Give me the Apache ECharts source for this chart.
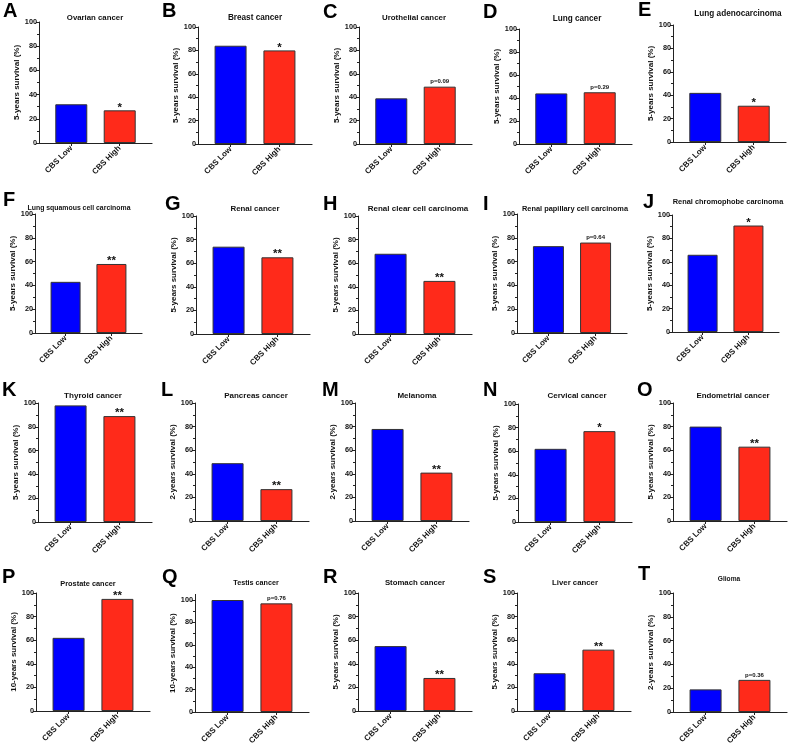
<!DOCTYPE html>
<html><head><meta charset="utf-8">
<script src="https://cdn.jsdelivr.net/npm/echarts@6/dist/echarts.min.js"></script>
<style>html,body{margin:0;padding:0;background:#fff}#c{width:789px;height:748px}</style>
</head><body><div id="c"></div>
<script>
// ---------------- data ----------------
const categories = ['CBS Low', 'CBS High'];
const panelLetters = ['A','B','C','D','E','F','G','H','I','J','K','L','M','N','O','P','Q','R','S','T'];
const panelTitles = ['Ovarian cancer','Breast cancer','Urothelial cancer','Lung cancer','Lung adenocarcinoma',
  'Lung squamous cell carcinoma','Renal cancer','Renal clear cell carcinoma','Renal papillary cell carcinoma','Renal chromophobe carcinoma',
  'Thyroid cancer','Pancreas cancer','Melanoma','Cervical cancer','Endometrial cancer',
  'Prostate cancer','Testis cancer','Stomach cancer','Liver cancer','Glioma'];
const yAxisNames = ['5-years survival (%)','5-years survival (%)','5-years survival (%)','5-years survival (%)','5-years survival (%)',
  '5-years survival (%)','5-years survival (%)','5-years survival (%)','5-years survival (%)','5-years survival (%)',
  '5-years survival (%)','2-years survival (%)','2-years survival (%)','5-years survival (%)','5-years survival (%)',
  '10-years survival (%)','10-years survival (%)','5-years survival (%)','5-years survival (%)','2-years survival (%)'];
const lowValues  = [32, 84, 39, 44, 42,  43, 74, 68, 73, 66,  98, 49, 78, 62, 80,  62, 100, 55, 32, 19];
const highValues = [27, 80, 49, 45, 31,  58, 65, 45, 76, 91,  89, 27, 41, 77, 63,  95,  97, 28, 52, 27];
const sigLabels  = ['*','*','p=0.09','p=0.29','*',  '**','**','**','p=0.64','*',  '**','**','**','*','**',  '**','p=0.76','**','**','p=0.36'];
const yTickValues = [0, 20, 40, 60, 80, 100];
const yMaxValues = [100,100,100,100,100, 100,100,100,100,100, 100,100,100,100,100, 100,105,100,100,100];

// ---------------- layout (pixels) ----------------
// [y-axis x, y of value 100, y of value 0, plot width]
const layout = [
  [39,22,143,113],[198,27,144,114],[359,27,144,113],[519,29,144,113],[673,25,142,113],
  [35,214,333,107],[196,216,334,114],[358,216,334,114],[517,214,333,110],[672,215,332,107],
  [38,403,522,114],[195,403,521,114],[355,403,521,114],[518,404,522,114],[673,403,521,114],
  [36,593,711,114],[195,600,712,114],[358,593,711,114],[517,593,711,114],[673,593,712,114]
];
const titlePos = [[95,17],[255,17],[414,17],[577,18],[738,13],
  [79,207],[255,208],[418,208],[575,208],[728,201],
  [93,395],[256,395],[417,395],[577,395],[733,395],
  [88,583],[256,582],[415,582],[575,582],[729,578]];
const titleSizes = [7.8,8.2,7.9,8.2,8.2, 6.9,7.9,8,7.4,7.4, 8.1,8,8,8,7.9, 7.4,7.2,7.8,7.8,6.6];
const titleNarrow = [0,0,0,0,1, 1,0,0,0,0, 0,0,0,0,0, 0,1,0,0,1];
const letterPos = [[3,4],[162,4],[323,5],[483,5],[638,3],
  [3,193],[165,197],[323,197],[483,197],[643,195],
  [2,383],[161,383],[322,383],[483,383],[637,383],
  [2,570],[162,570],[323,570],[483,570],[638,567]];
const nameGaps = [16,16,16,14,10, 16,16,16,15,16, 16,15,15,16,16, 17,16,16,16,11];

const FONT = 'Liberation Sans, Arial, sans-serif';
const NARROW = 'Liberation Sans Narrow, Arial Narrow, Liberation Sans, sans-serif';
const AX = '#222';
const slotX = i => 2 + 3 * i;

const grids = [], xAxes = [], yAxes = [], series = [], titles = [];
layout.forEach((L, i) => {
  const [x0, y100, y0, w] = L;
  const top = y0 - (y0 - y100) * yMaxValues[i] / 100;
  grids.push({ left: x0, top: top, width: w, height: y0 - top });
  xAxes.push({
    gridIndex: i, type: 'value', min: 0, max: 7,
    axisLine: { show: true, onZero: false, lineStyle: { color: AX, width: 1.2 } },
    axisTick: { show: true, customValues: [slotX(0), slotX(1)], length: 3, lineStyle: { color: AX, width: 1 } },
    axisLabel: { customValues: [slotX(0), slotX(1)], formatter: v => categories[Math.round((v - 2) / 3)],
      rotate: 45, fontSize: 8, fontWeight: 'bold', color: '#111', fontFamily: FONT, margin: 4 },
    splitLine: { show: false }
  });
  yAxes.push({
    gridIndex: i, type: 'value', min: 0, max: yMaxValues[i], interval: 20,
    name: yAxisNames[i], nameLocation: 'middle', nameGap: nameGaps[i],
    nameTextStyle: { fontSize: 8, fontWeight: 'bold', color: '#111', fontFamily: FONT },
    axisLine: { show: true, lineStyle: { color: AX, width: 1 } },
    axisTick: { show: true, customValues: yTickValues, length: 3, lineStyle: { color: AX, width: 1 } },
    minorTick: { show: true, splitNumber: 2, length: 2, lineStyle: { color: AX, width: 1 } },
    axisLabel: { customValues: yTickValues, fontSize: 7.3, fontWeight: 'bold', color: '#111', fontFamily: FONT, margin: 2 },
    splitLine: { show: false }, minorSplitLine: { show: false }
  });
  const sig = sigLabels[i];
  const isP = sig.charAt(0) === 'p';
  series.push({
    type: 'bar', xAxisIndex: i, yAxisIndex: i, barWidth: Math.round(w * 0.285), silent: true,
    itemStyle: { borderColor: '#333', borderWidth: 1 },
    data: [
      { value: [slotX(0), lowValues[i]], itemStyle: { color: '#0000ff' } },
      { value: [slotX(1), highValues[i]], itemStyle: { color: '#ff2a1a' },
        label: { show: true, position: 'top', formatter: sig,
          distance: isP ? 2 : -3, fontSize: isP ? 6 : 11.5, fontWeight: 'bold', color: '#111', fontFamily: FONT } }
    ]
  });
  titles.push({ text: panelTitles[i], left: titlePos[i][0], top: titlePos[i][1] - titleSizes[i] / 2 + 1, textAlign: 'center', padding: 0,
    textStyle: { fontSize: titleSizes[i], fontWeight: 'bold', color: '#111', fontFamily: titleNarrow[i] ? NARROW : FONT } });
  titles.push({ text: panelLetters[i], left: letterPos[i][0], top: letterPos[i][1] - 3, padding: 0,
    textStyle: { fontSize: 20, fontWeight: 'bold', color: '#000', fontFamily: FONT } });
});

const chart = echarts.init(document.getElementById('c'), null, { renderer: 'canvas' });
chart.setOption({
  animation: false, backgroundColor: '#fff',
  title: titles, grid: grids, xAxis: xAxes, yAxis: yAxes, series: series
});
</script></body></html>
